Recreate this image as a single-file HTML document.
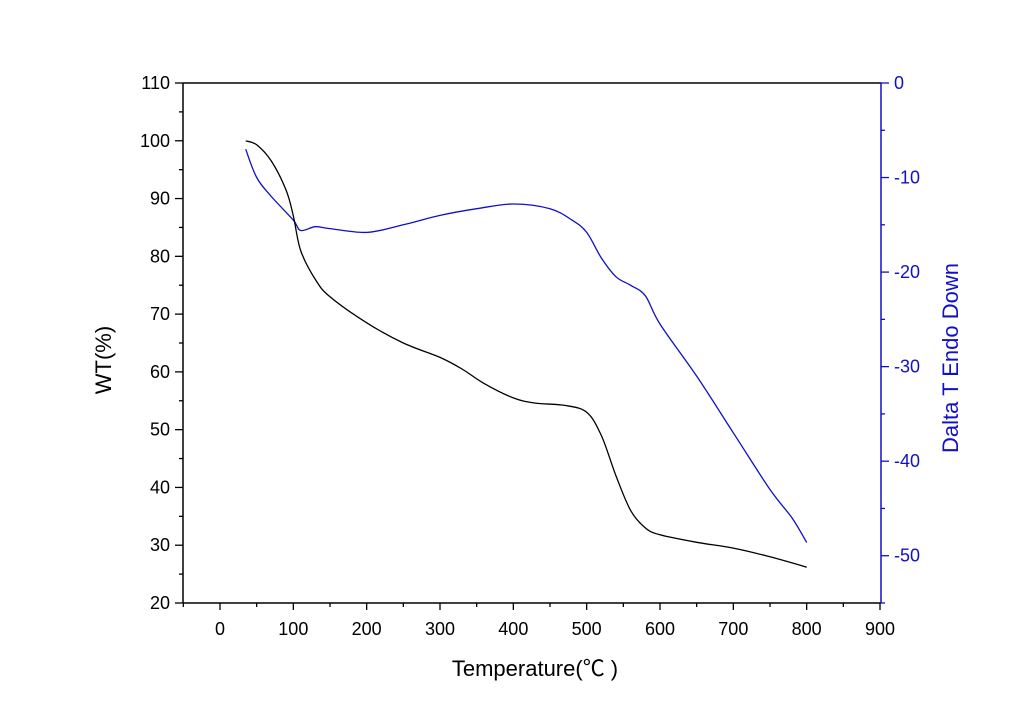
<!DOCTYPE html>
<html><head><meta charset="utf-8"><style>body{margin:0;background:#fff}svg{display:block}</style></head>
<body>
<svg id="c" width="1024" height="723" xmlns="http://www.w3.org/2000/svg" font-family="Liberation Sans, Noto Sans CJK SC, sans-serif"></svg>
<script>
const wtTemps=[35,50,70,90,100,110,130,150,200,250,300,330,360,400,430,470,500,520,540,560,580,600,650,700,750,800];
const wtValues=[100,99.3,96.5,91.5,87,81,76,73,68.5,65,62.5,60.5,58,55.5,54.6,54.2,53,49,42,36,33,31.8,30.5,29.5,28,26.2];
const dtaTemps=[35,50,70,100,110,130,150,200,250,300,350,400,450,480,500,520,540,560,580,600,650,700,750,780,800];
const dtaValues=[-7,-10,-12,-14.5,-15.6,-15.2,-15.4,-15.8,-15,-14,-13.3,-12.8,-13.3,-14.5,-15.8,-18.5,-20.5,-21.4,-22.5,-25.5,-31,-37,-43,-46,-48.6];
const xTicks=[0,100,200,300,400,500,600,700,800,900];
const yTicks=[20,30,40,50,60,70,80,90,100,110];
const y2Ticks=[0,-10,-20,-30,-40,-50];
const L=183,R=881,T=83,B=603;
const sx=v=>220+(v-0)*(660/900);
const sy=v=>B-(v-20)*(B-T)/90;
const sy2=v=>T-(v)*(B-T)/55;
const svg=document.getElementById('c');const NS='http://www.w3.org/2000/svg';
function mk(tag,attrs,parent){const e=document.createElementNS(NS,tag);for(const k in attrs)e.setAttribute(k,attrs[k]);(parent||svg).appendChild(e);return e;}
function smooth(pts){let d='M'+pts[0][0].toFixed(1)+' '+pts[0][1].toFixed(1);
 for(let i=0;i<pts.length-1;i++){const p0=pts[i-1]||pts[i],p1=pts[i],p2=pts[i+1],p3=pts[i+2]||p2;
  const c1=[p1[0]+(p2[0]-p0[0])/6,p1[1]+(p2[1]-p0[1])/6],c2=[p2[0]-(p3[0]-p1[0])/6,p2[1]-(p3[1]-p1[1])/6];
  d+='C'+c1[0].toFixed(1)+' '+c1[1].toFixed(1)+' '+c2[0].toFixed(1)+' '+c2[1].toFixed(1)+' '+p2[0].toFixed(1)+' '+p2[1].toFixed(1);}
 return d;}
const BLUE='#1010c8';
let e;
e=mk('line',{x1:L,y1:T,x2:R,y2:T,stroke:'#000','stroke-width':1.5});


e=mk('line',{x1:L,y1:T,x2:L,y2:B,stroke:'#000','stroke-width':1.5});


e=mk('line',{x1:L,y1:B,x2:R,y2:B,stroke:'#000','stroke-width':1.5});


e=mk('line',{x1:R,y1:T,x2:R,y2:B,stroke:BLUE,'stroke-width':1.5});


for(let v=-50;v<=900;v+=50){const x=sx(v);const major=v%100===0;
 e=mk('line',{x1:x,y1:B,x2:x,y2:B+(major?7:4),stroke:'#000','stroke-width':1.3});
 
 }
xTicks.forEach(v=>{e=mk('text',{x:sx(v),y:B+32,'font-size':18,'text-anchor':'middle',fill:'#000'});e.textContent=v;
 
 });
for(let v=20;v<=110;v+=5){const y=sy(v);const major=v%10===0;
 e=mk('line',{x1:L,y1:y,x2:L-(major?8:4),y2:y,stroke:'#000','stroke-width':1.3});
 
 }
yTicks.forEach(v=>{e=mk('text',{x:L-13,y:sy(v)+6,'font-size':18,'text-anchor':'end',fill:'#000'});e.textContent=v;
 
 });
for(let v=0;v>=-55;v-=5){const y=sy2(v);const major=v%10===0;
 e=mk('line',{x1:R,y1:y,x2:R+(major?8:4),y2:y,stroke:BLUE,'stroke-width':1.3});
 
 }
y2Ticks.forEach(v=>{e=mk('text',{x:R+13,y:sy2(v)+6,'font-size':18,'text-anchor':'start',fill:BLUE});e.textContent=v;
 
 });
e=mk('text',{x:535,y:676,'font-size':22,'text-anchor':'middle',fill:'#000'});e.textContent='Temperature(℃ )';


e=mk('text',{x:111,y:360,'font-size':22,'text-anchor':'middle',fill:'#000',transform:'rotate(-90 111 360)'});e.textContent='WT(%)';


e=mk('text',{x:958,y:358,'font-size':22,'text-anchor':'middle',fill:BLUE,transform:'rotate(-90 958 358)'});e.textContent='Dalta T Endo Down';


e=mk('path',{d:smooth(dtaTemps.map((t,i)=>[sx(t),sy2(dtaValues[i])])),fill:'none',stroke:BLUE,'stroke-width':1.3});


e=mk('path',{d:smooth(wtTemps.map((t,i)=>[sx(t),sy(wtValues[i])])),fill:'none',stroke:'#000','stroke-width':1.3});


</script>
</body></html>
